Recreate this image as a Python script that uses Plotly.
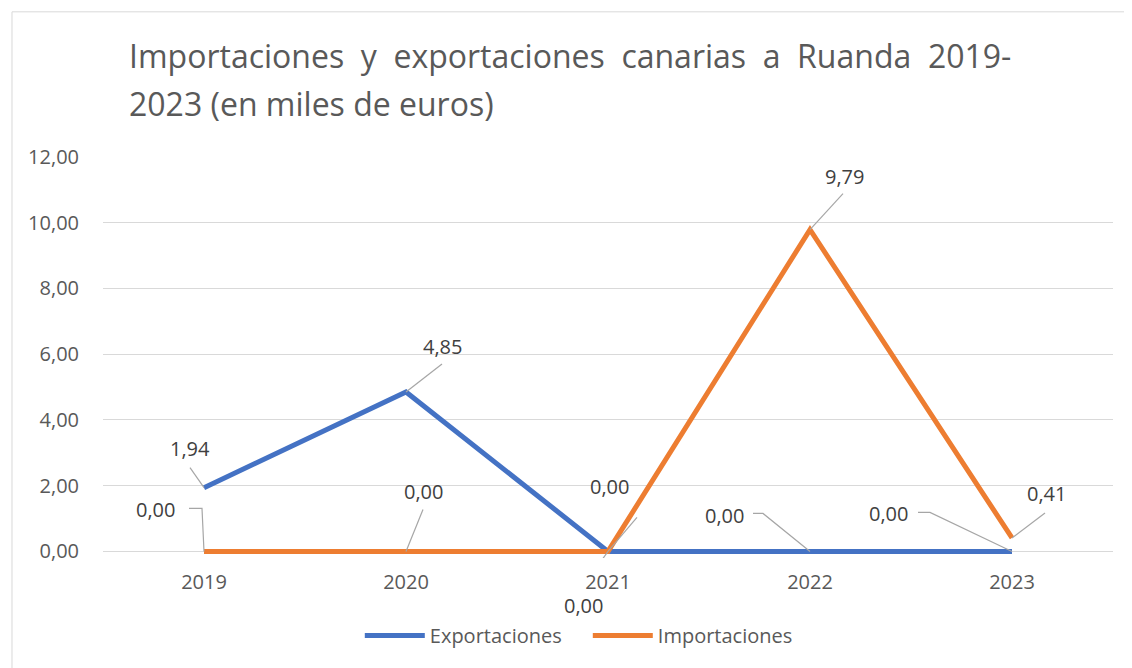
import plotly.graph_objects as go

years = ["2019", "2020", "2021", "2022", "2023"]
exportaciones = [1.94, 4.85, 0.00, 0.00, 0.00]
importaciones = [0.00, 0.00, 0.00, 9.79, 0.41]
y_ticks = [0, 2, 4, 6, 8, 10, 12]
y_tick_labels = ["0,00", "2,00", "4,00", "6,00", "8,00", "10,00", "12,00"]

# data-label placement (pixel offsets from the point: dx right, dy up)
exp_label_shift = [(-14, 39), (36, 46), (-25, -54), (-86, 36), (-124, 38)]
imp_label_shift = [(-49, 42), (17, 60), (1, 65), (34, 53), (34, 44)]
# leader-line paths (pixel offsets from the point, dx right, dy up)
exp_leaders = [[(-14, 20), (0, 0)], [(36, 28), (0, 0)], [(-25, -35), (0, 0)],
               [(-57, 38), (-47, 38), (0, 0)], [(-94, 39), (-82, 39), (0, 0)]]
imp_leaders = [[(-15, 43), (-2, 43), (0, 0)], [(17, 42), (0, 0)], [(29, 34), (0, 0)],
               [(33, 36), (0, 0)], [(33, 25), (0, 0)]]

BLUE = "#4472C4"
ORANGE = "#ED7D31"
FONT = "Open Sans"

fig = go.Figure()
fig.add_trace(go.Scatter(x=years, y=exportaciones, mode="lines", name="Exportaciones",
                         line=dict(color=BLUE, width=5)))
fig.add_trace(go.Scatter(x=years, y=importaciones, mode="lines", name="Importaciones",
                         line=dict(color=ORANGE, width=5)))


def fmt(v):
    return f"{v:.2f}".replace(".", ",")


annotations = []
shapes = []
for vals, shifts, leaders in ((exportaciones, exp_label_shift, exp_leaders),
                              (importaciones, imp_label_shift, imp_leaders)):
    for i, (v, (dx, dy), pts) in enumerate(zip(vals, shifts, leaders)):
        annotations.append(dict(
            x=i, y=v, xref="x", yref="y", text=fmt(v), showarrow=False,
            xshift=dx, yshift=dy, xanchor="center", yanchor="middle",
            font=dict(family=FONT, size=20, color="#404040")))
        path = "M " + " L ".join(f"{px},{py}" for px, py in pts)
        shapes.append(dict(
            type="path", xref="x", yref="y", xsizemode="pixel", ysizemode="pixel",
            xanchor=i, yanchor=v, path=path,
            line=dict(color="#A6A6A6", width=1.2), layer="above"))

# title (two lines)
annotations.append(dict(
    text="Importaciones\u00a0 y\u00a0 exportaciones\u00a0 canarias\u00a0 a\u00a0 Ruanda\u00a0 2019-",
    xref="paper", yref="paper", x=0.0237, y=1.252, xanchor="left", yanchor="middle",
    showarrow=False, font=dict(family=FONT, size=32, color="#595959")))
annotations.append(dict(
    text="2023 (en miles de euros)",
    xref="paper", yref="paper", x=0.0237, y=1.133, xanchor="left", yanchor="middle",
    showarrow=False, font=dict(family=FONT, size=32, color="#595959")))

# chart border
shapes.append(dict(type="rect", xref="paper", yref="paper", x0=-0.0901, x1=1.03,
                   y0=-0.306, y1=1.362, line=dict(color="#D9D9D9", width=1),
                   fillcolor="rgba(0,0,0,0)", layer="below"))

fig.update_layout(
    width=1124, height=660,
    margin=dict(l=95, r=19, t=149, b=110.4),
    paper_bgcolor="white", plot_bgcolor="white",
    font=dict(family=FONT, size=20, color="#595959"),
    separators=",.",
    showlegend=True,
    legend=dict(orientation="h", x=0.480, xanchor="center", y=-0.193, yanchor="middle",
                font=dict(family=FONT, size=20, color="#595959"), itemwidth=60,
                entrywidth=153),
    annotations=annotations,
    shapes=shapes,
    xaxis=dict(type="category", range=[-0.5, 4.5], showgrid=False, zeroline=False,
               showline=False, ticks="", ticklabelstandoff=10,
               tickfont=dict(family=FONT, size=20, color="#595959")),
    yaxis=dict(range=[-0.2, 12], tickvals=y_ticks, ticktext=y_tick_labels,
               showgrid=True, gridcolor="#D9D9D9", gridwidth=1.3, zeroline=False,
               showline=False, ticks="", ticklabelstandoff=23,
               tickfont=dict(family=FONT, size=20, color="#595959")),
)

fig.write_html("out.html")
